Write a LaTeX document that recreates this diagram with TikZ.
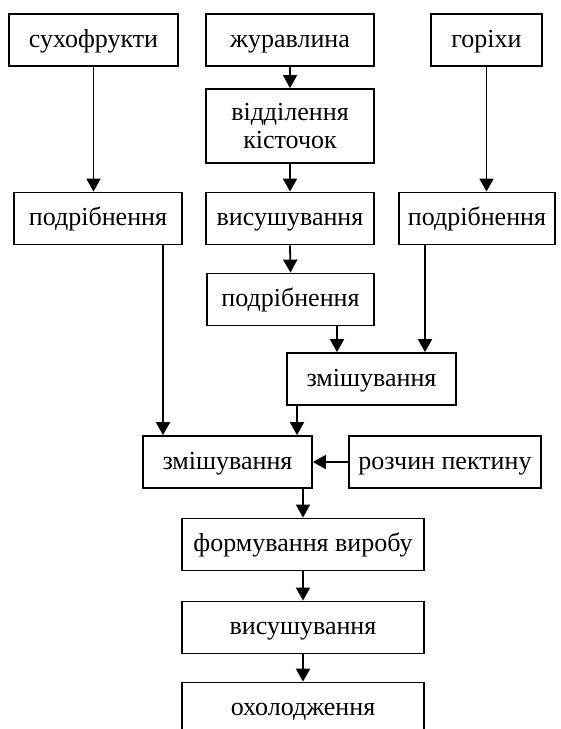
\documentclass[tikz,border=0pt]{standalone}
\usepackage{fontspec}
\setmainfont{Liberation Serif}
\usetikzlibrary{arrows.meta,positioning,calc}

\tikzset{
  stage/.style={draw, line width=1.8pt, minimum height=52pt, inner sep=0pt,
    align=center, text height=18pt, text depth=4pt,
    font=\fontsize{26}{28}\selectfont},
  flow/.style={-{Triangle[length=13pt,width=14pt]}, line width=1.8pt}
}

\begin{document}
\begin{tikzpicture}[x=1pt,y=-1pt]
        \useasboundingbox (0,0) rectangle (561,729);

        % raw materials
        \node[stage, minimum width=169pt] (dried) at (93.5,40) {сухофрукти};
        \node[stage, minimum width=168pt] (cranb) at (290,40) {журавлина};
        \node[stage, minimum width=111pt] (nuts) at (486.5,40) {горіхи};

        % preparation
        \node[stage, minimum width=168pt, minimum height=74pt,
              text height={}, text depth={}] (pits) at (290,126) {відділення\\кісточок};
        \node[stage, minimum width=168pt] (crushA) at (98,218.5) {подрібнення};
        \node[stage, minimum width=168pt] (dryA) at (290,218.5) {висушування};
        \node[stage, minimum width=156pt] (crushR) at (477,218.5) {подрібнення};
        \node[stage, minimum width=167pt] (crushM) at (290.5,299.5) {подрібнення};

        % mixing
        \node[stage, minimum width=169pt] (mixU) at (371.5,379) {змішування};
        \node[stage, minimum width=169pt] (mixL) at (227.5,462) {змішування};
        \node[stage, minimum width=192pt] (pectin) at (445,462) {розчин пектину};

        % final steps
        \node[stage, minimum width=242pt] (form) at (303,544.5) {формування виробу};
        \node[stage, minimum width=242pt] (dryB) at (303,627.5) {висушування};
        \node[stage, minimum width=242pt] (cool) at (303,708.5) {охолодження};

        % off-centre connector lines
        \coordinate (xA) at (163,0);
        \coordinate (xM) at (337,0);
        \coordinate (xR) at (425,0);
        \coordinate (xU) at (297,0);

        \draw[flow] (dried.south) -- (dried.south |- crushA.north);
        \draw[flow] (cranb.south) -- (pits.north);
        \draw[flow] (pits.south) -- (dryA.north);
        \draw[flow] (dryA.south) -- (crushM.north);
        \draw[flow] (nuts.south) -- (nuts.south |- crushR.north);

        \draw[flow] (crushM.south -| xM) -- (mixU.north -| xM);
        \draw[flow] (crushR.south -| xR) -- (mixU.north -| xR);
        \draw[flow] (crushA.south -| xA) -- (mixL.north -| xA);
        \draw[flow] (mixU.south -| xU) -- (mixL.north -| xU);
        \draw[flow] (pectin.west) -- (mixL.east);

        \draw[flow] (form.north |- mixL.south) -- (form.north);
        \draw[flow] (form.south) -- (dryB.north);
        \draw[flow] (dryB.south) -- (cool.north);
\end{tikzpicture}
\end{document}
